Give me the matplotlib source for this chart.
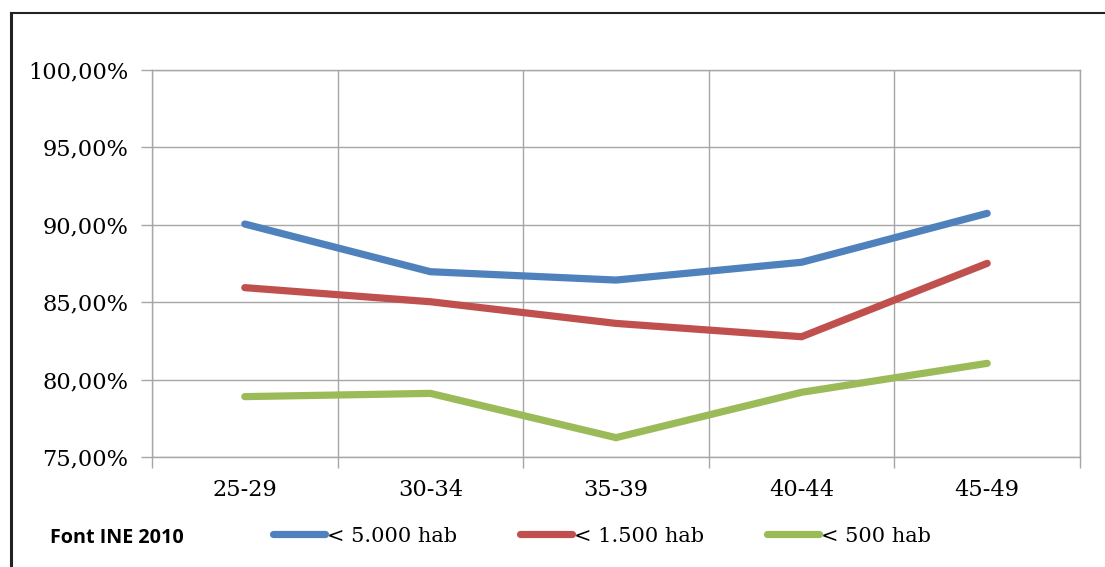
import matplotlib.pyplot as plt
from matplotlib.lines import Line2D
from matplotlib.ticker import FixedLocator, FuncFormatter

# dades
categories = ["25-29", "30-34", "35-39", "40-44", "45-49"]
hab_5000 = [90.05, 86.97, 86.43, 87.58, 90.74]
hab_1500 = [85.94, 85.03, 83.63, 82.77, 87.51]
hab_500 = [78.90, 79.11, 76.25, 79.18, 81.05]
series_labels = ["< 5.000 hab", "< 1.500 hab", "< 500 hab"]
colors = ["#4F81BD", "#C0504D", "#9BBB59"]
source = "Font INE 2010"

fig = plt.figure(figsize=(11.05, 5.67), dpi=100)
ax = fig.add_axes([152 / 1105, 1 - 457 / 567, (1080 - 152) / 1105, (457 - 70) / 567])

x = list(range(len(categories)))
for vals, c, lab in zip([hab_5000, hab_1500, hab_500], colors, series_labels):
    ax.plot(x, vals, color=c, lw=5.2, solid_capstyle="round",
            solid_joinstyle="miter", label=lab, zorder=3)

grid_c = "#A6A6A6"
fs = 16.2
ax.set_xlim(-0.5, len(categories) - 0.5)
ax.set_ylim(75, 100)
ax.set_yticks([75, 80, 85, 90, 95, 100])
ax.yaxis.set_major_formatter(FuncFormatter(lambda v, p: f"{v:.2f}%".replace(".", ",")))
ax.set_xticks(x)
ax.set_xticklabels(categories)
ax.xaxis.set_minor_locator(FixedLocator([i - 0.5 for i in range(len(categories) + 1)]))
ax.tick_params(axis="x", which="major", length=0, pad=16)
ax.tick_params(axis="x", which="minor", length=8, color=grid_c, width=1)
ax.tick_params(axis="y", length=8, color=grid_c, width=1, pad=9)
ax.grid(True, axis="y", which="major", color=grid_c, lw=1)
ax.grid(True, axis="x", which="minor", color=grid_c, lw=1)
for s in ax.spines.values():
    s.set_color(grid_c)
    s.set_linewidth(1)

for lab in ax.get_xticklabels() + ax.get_yticklabels():
    lab.set_fontfamily("DejaVu Serif")
    lab.set_fontsize(fs)

# llegenda i font
fig.text(50 / 1105, 1 - 538 / 567, source, fontsize=14.2, fontweight="bold",
         family="Open Sans", va="center", ha="left")
handles = [Line2D([0], [0], color=c, lw=5.2, solid_capstyle="round") for c in colors]
leg = fig.legend(handles, series_labels, loc="center left",
                 bbox_to_anchor=(269 / 1105, 1 - 536 / 567), ncol=3, frameon=False,
                 handlelength=2.5, handletextpad=0.1, columnspacing=3.0,
                 borderpad=0.2, borderaxespad=0,
                 prop={"family": "DejaVu Serif", "size": 15})

# marc
fig.add_artist(Line2D([11 / 1105, 11 / 1105], [0, 1 - 13 / 567], color="#222222", lw=2.2))
fig.add_artist(Line2D([11 / 1105, 1], [1 - 13 / 567, 1 - 13 / 567], color="#222222", lw=1.5))

fig.savefig("out.png", dpi=100)
